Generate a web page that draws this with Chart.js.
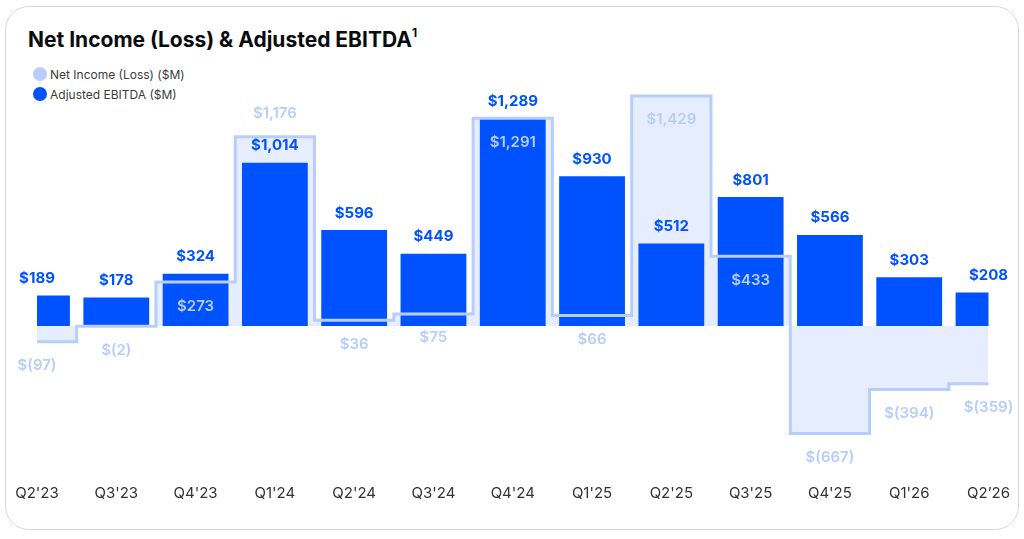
<!DOCTYPE html>
<html lang="en">
  <head>
    <meta charset="UTF-8" />
    <title>Net Income (Loss) &amp; Adjusted EBITDA</title>
    <style>
      body {
        margin: 0;
        background: #fff;
        font-family: Inter, "Noto Sans", sans-serif;
      }
      .card {
        position: absolute;
        left: 5px;
        top: 6px;
        width: 1012px;
        height: 522px;
        border: 1px solid #d6d6d6;
        border-radius: 24px;
        background: #fff;
      }
      h1 {
        position: absolute;
        left: 28px;
        top: 28px;
        margin: 0;
        font-size: 21px;
        font-weight: 700;
        color: #0a0b0d;
        line-height: 24px;
      }
      h1 sup {
        font-size: 12px;
        vertical-align: 10px;
        line-height: 0;
      }
      .legend {
        position: absolute;
        left: 33px;
        top: 64px;
        font-size: 12px;
        color: #3c3c3c;
      }
      .legend div {
        display: flex;
        align-items: center;
        height: 20px;
      }
      .legend span {
        display: inline-block;
        width: 14px;
        height: 14px;
        border-radius: 50%;
        margin-right: 3px;
      }
      #chart {
        position: absolute;
        left: 0;
        top: 0;
      }
    </style>
  </head>
  <body>
    <div class="card"></div>
    <h1>Net Income (Loss) &amp; Adjusted EBITDA<sup>1</sup></h1>
    <div class="legend">
      <div><span style="background:#b7cdfb"></span>Net Income (Loss) ($M)</div>
      <div><span style="background:#0052ff"></span>Adjusted EBITDA ($M)</div>
    </div>
    <canvas id="chart" width="1024" height="539"></canvas>
    <script src="https://cdn.jsdelivr.net/npm/chart.js"></script>
    <script>
      const quarters = ["Q2'23", "Q3'23", "Q4'23", "Q1'24", "Q2'24", "Q3'24", "Q4'24",
        "Q1'25", "Q2'25", "Q3'25", "Q4'25", "Q1'26", "Q2’26"];
      const netIncome = [-97, -2, 273, 1176, 36, 75, 1291, 66, 1429, 433, -667, -394, -359];
      const adjEbitda = [189, 178, 324, 1014, 596, 449, 1289, 930, 512, 801, 566, 303, 208];

      const BLUE = "#0052ff";
      const LIGHT = "#b7cdfb";
      const FILL = "#e6edfe";

      function money(v) {
        const s = Math.abs(v).toLocaleString("en-US");
        return v < 0 ? "$(" + s + ")" : "$" + s;
      }

      // net income labels go under the line, except where the bar is in the way
      const niAbove = [3];

      const valueLabels = {
        id: "valueLabels",
        afterDatasetsDraw(chart) {
          const ctx = chart.ctx;
          ctx.save();
          ctx.textAlign = "center";
          ctx.textBaseline = "middle";

          const bars = chart.getDatasetMeta(1).data;
          ctx.font = "700 15px Inter, 'Noto Sans', sans-serif";
          ctx.fillStyle = BLUE;
          bars.forEach((bar, i) => {
            ctx.fillText(money(adjEbitda[i]), bar.x, bar.y - 17);
          });

          const pts = chart.getDatasetMeta(0).data;
          ctx.font = "600 15px Inter, 'Noto Sans', sans-serif";
          ctx.fillStyle = LIGHT;
          pts.forEach((p, i) => {
            const dy = niAbove.includes(i) ? -23 : 24;
            ctx.fillText(money(netIncome[i]), p.x, p.y + dy);
          });
          ctx.restore();
        },
      };

      new Chart(document.getElementById("chart"), {
        type: "bar",
        data: {
          labels: quarters,
          datasets: [
            {
              // outline of net income, drawn over the bars
              type: "line",
              data: netIncome,
              stepped: "middle",
              borderColor: LIGHT,
              borderWidth: 3,
              borderJoinStyle: "miter",
              pointRadius: 0,
              fill: false,
              order: 0,
            },
            {
              type: "bar",
              data: adjEbitda,
              backgroundColor: BLUE,
              barPercentage: 0.83,
              categoryPercentage: 1,
              clip: 0,
              order: 1,
            },
            {
              // shaded area of net income, behind the bars
              type: "line",
              data: netIncome,
              stepped: "middle",
              borderWidth: 0,
              pointRadius: 0,
              backgroundColor: FILL,
              fill: "origin",
              order: 2,
            },
          ],
        },
        options: {
          responsive: false,
          animation: false,
          layout: { padding: { left: 37, right: 35, top: 80, bottom: 23 } },
          plugins: {
            legend: { display: false },
            tooltip: { enabled: false },
          },
          scales: {
            x: {
              offset: false,
              grid: { display: false, drawTicks: false },
              border: { display: false },
              ticks: {
                padding: 14,
                color: "#333",
                font: { family: "Inter", size: 15 },
                maxRotation: 0,
                autoSkip: false,
              },
            },
            y: {
              display: false,
              min: -894,
              max: 1528,
            },
          },
        },
        plugins: [valueLabels],
      });
    </script>
  </body>
</html>
